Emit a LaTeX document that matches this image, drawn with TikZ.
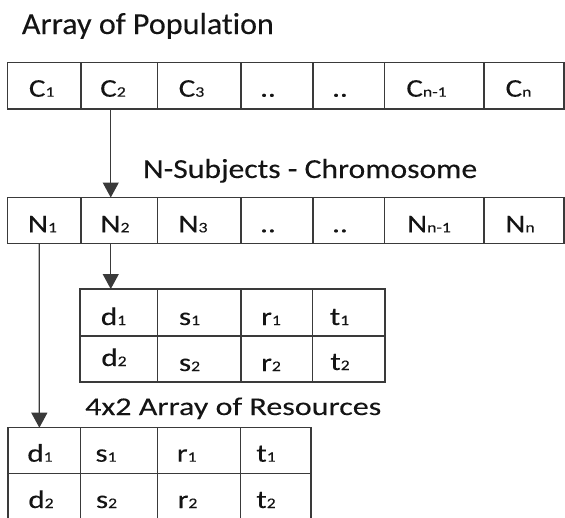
\documentclass[tikz,border=0pt]{standalone}
\usepackage{fontspec}
\setmainfont{Carlito}[Ligatures={NoCommon}, FakeBold=0.15]
\usetikzlibrary{arrows.meta}
\definecolor{linecol}{HTML}{3A3A3A}
\definecolor{textcol}{HTML}{141414}
\newcommand{\cel}[5]{\node[cellbox, minimum width={(#4-#2)*1pt}, minimum height={(#5-#3)*1pt}] (#1) at ({(#2+#4)/2},{(#3+#5)/2}) {};}
\newcommand{\T}[2]{\scalebox{1.22}[1]{#1{\fontsize{14.5}{15}\selectfont #2}}}
\newcommand{\txt}[4]{\node[celltext] (#1) at (#2,#3) {#4};}
\begin{document}
\begin{tikzpicture}[x=1pt,y=-1pt,
  cellbox/.style={draw=linecol, line width=1.2pt, rectangle, inner sep=0pt, outer sep=0pt},
  celltext/.style={anchor=base, inner sep=0pt, text=textcol, font=\fontsize{25.5}{28}\selectfont},
  title/.style={anchor=base west, inner sep=0pt, text=textcol},
  arr/.style={draw=linecol, line width=1.2pt, -{Triangle[length=15pt,width=16pt]}}]
\useasboundingbox (0,0) rectangle (565,517);
\clip (0,0) rectangle (565,517);
% titles
\node[title] (t1) at (21.7,34) {\resizebox{252pt}{\height}{\fontsize{30.5}{33}\selectfont Array of Population}};
\node[title] (t2) at (143,178) {\resizebox{334pt}{\height}{\fontsize{27.5}{30}\selectfont N-Subjects - Chromosome}};
\node[title] (t3) at (85,415) {\resizebox{296pt}{\height}{\fontsize{25.5}{28}\selectfont 4x2 Array of Resources}};
% C row
\cel{c1}{7.5}{62.5}{81}{109}
\cel{c2}{81}{62.5}{157.5}{109}
\cel{c3}{157.5}{62.5}{241}{109}
\cel{c4}{241}{62.5}{313}{109}
\cel{c5}{313}{62.5}{384.5}{109}
\cel{c6}{384.5}{62.5}{484}{109}
\cel{c7}{484}{62.5}{564}{109}
\txt{tc1}{41.7}{96.7}{\T{C}{1}}
\txt{tc2}{113}{96.7}{\T{C}{2}}
\txt{tc3}{191.5}{96.7}{\T{C}{3}}
\txt{tc4}{268}{96.7}{\T{..}{}}
\txt{tc5}{340}{96.7}{\T{..}{}}
\txt{tc6}{426.5}{96.7}{\T{C}{n-1}}
\txt{tc7}{518.5}{96.7}{\T{C}{n}}
% N row
\cel{n1}{7.5}{197.5}{81}{243.5}
\cel{n2}{81}{197.5}{157.5}{243.5}
\cel{n3}{157.5}{197.5}{241}{243.5}
\cel{n4}{241}{197.5}{313}{243.5}
\cel{n5}{313}{197.5}{384.5}{243.5}
\cel{n6}{384.5}{197.5}{484}{243.5}
\cel{n7}{484}{197.5}{564}{243.5}
\txt{tn1}{42.5}{232.3}{\T{N}{1}}
\txt{tn2}{115}{232.3}{\T{N}{2}}
\txt{tn3}{193}{232.3}{\T{N}{3}}
\txt{tn4}{268}{232.3}{\T{..}{}}
\txt{tn5}{340}{232.3}{\T{..}{}}
\txt{tn6}{429}{232.3}{\T{N}{n-1}}
\txt{tn7}{520}{232.3}{\T{N}{n}}
% table 1
\cel{a11}{80}{289}{157.5}{336}
\cel{a12}{157.5}{289}{241}{336}
\cel{a13}{241}{289}{312.5}{336}
\cel{a14}{312.5}{289}{385}{336}
\cel{a21}{80}{336}{157.5}{382}
\cel{a22}{157.5}{336}{241}{382}
\cel{a23}{241}{336}{312.5}{382}
\cel{a24}{312.5}{336}{385}{382}
\txt{ta11}{113.5}{325}{\T{d}{1}}
\txt{ta12}{189.5}{325}{\T{s}{1}}
\txt{ta13}{271}{325}{\T{r}{1}}
\txt{ta14}{339.5}{325}{\T{t}{1}}
\txt{ta21}{114}{366}{\T{d}{2}}
\txt{ta22}{189.5}{371}{\T{s}{2}}
\txt{ta23}{271}{371}{\T{r}{2}}
\txt{ta24}{340}{370}{\T{t}{2}}
% table 2
\cel{b11}{8}{427.7}{80.7}{473.3}
\cel{b12}{80.7}{427.7}{157.3}{473.3}
\cel{b13}{157.3}{427.7}{240.7}{473.3}
\cel{b14}{240.7}{427.7}{311}{473.3}
\cel{b21}{8}{473.3}{80.7}{520}
\cel{b22}{80.7}{473.3}{157.3}{520}
\cel{b23}{157.3}{473.3}{240.7}{520}
\cel{b24}{240.7}{473.3}{311}{520}
\txt{tb11}{40}{461.7}{\T{d}{1}}
\txt{tb12}{106}{461.7}{\T{s}{1}}
\txt{tb13}{186.7}{461.7}{\T{r}{1}}
\txt{tb14}{266}{461.7}{\T{t}{1}}
\txt{tb21}{41}{508}{\T{d}{2}}
\txt{tb22}{106.5}{508}{\T{s}{2}}
\txt{tb23}{187.5}{508}{\T{r}{2}}
\txt{tb24}{266}{508}{\T{t}{2}}
% connectors
\draw[arr] ([xshift=-8.5pt]c2.south) -- ([xshift=-8.5pt]n2.north);
\draw[arr] ([xshift=-8.5pt]n2.south) -- ([xshift=-8pt]a11.north);
\draw[arr] ([xshift=-5pt]n1.south) -- ([xshift=-5pt]b11.north);
\end{tikzpicture}
\end{document}
